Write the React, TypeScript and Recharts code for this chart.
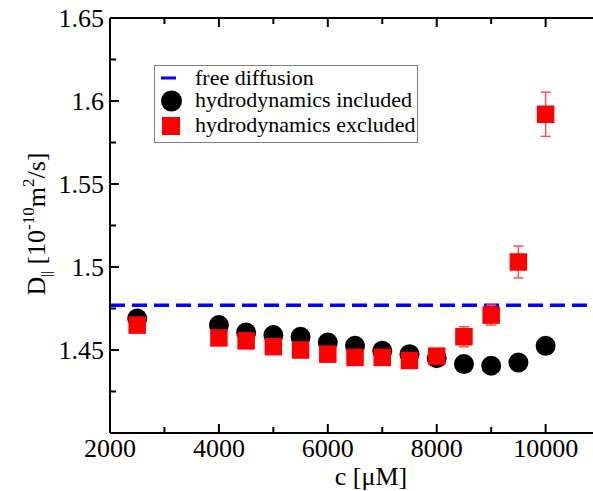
import React from "react";
import {
  ScatterChart,
  Scatter,
  XAxis,
  YAxis,
  ReferenceLine,
  ErrorBar,
  Legend,
} from "recharts";

// concentration c [µM]
const concentrations = [2500, 4000, 4500, 5000, 5500, 6000, 6500, 7000, 7500, 8000, 8500, 9000, 9500, 10000];
// D|| [1e-10 m^2/s]
const includedD = [1.469, 1.465, 1.4605, 1.459, 1.458, 1.4545, 1.4525, 1.4495, 1.4475, 1.445, 1.4415, 1.4405, 1.4425, 1.4525];
const excludedD = [1.465, 1.4573, 1.4555, 1.452, 1.45, 1.4475, 1.4455, 1.4455, 1.4437, 1.4463, 1.458, 1.471, 1.503, 1.592];
const excludedErr = [0.002, 0.002, 0.002, 0.002, 0.002, 0.002, 0.002, 0.002, 0.002, 0.002, 0.006, 0.006, 0.0096, 0.0133];
const freeDiffusion = 1.477;

const xTicks = [2000, 3000, 4000, 5000, 6000, 7000, 8000, 9000, 10000];
const xLabeled = [2000, 4000, 6000, 8000, 10000];
const yTicks = [1.4, 1.425, 1.45, 1.475, 1.5, 1.525, 1.55, 1.575, 1.6, 1.625, 1.65];
const yLabeled = [1.45, 1.5, 1.55, 1.6, 1.65];
const legendNames = ["free diffusion", "hydrodynamics included", "hydrodynamics excluded"];

const FONT = '"Liberation Serif", "DejaVu Serif", serif';

const includedData = concentrations.map((c, i) => ({ c, d: includedD[i] }));
const excludedData = concentrations.map((c, i) => ({ c, d: excludedD[i], err: excludedErr[i] }));

const BottomTick = (props: any) => {
  const { x, y, payload } = props;
  const major = xLabeled.includes(payload.value);
  return (
    <g>
      <line x1={x} x2={x} y1={y} y2={y - (major ? 9 : 6)} stroke="#000" strokeWidth={2} />
      {major && (
        <text x={x} y={y + 24} textAnchor="middle" fontSize={26} fontFamily={FONT} fill="#000">
          {payload.value}
        </text>
      )}
    </g>
  );
};

const TopTick = (props: any) => {
  const { x, y, payload } = props;
  const major = xLabeled.includes(payload.value);
  return <line x1={x} x2={x} y1={y} y2={y + (major ? 9 : 6)} stroke="#000" strokeWidth={2} />;
};

const LeftTick = (props: any) => {
  const { x, y, payload } = props;
  const major = yLabeled.includes(payload.value);
  return (
    <g>
      <line x1={x} x2={x + (major ? 9 : 6)} y1={y} y2={y} stroke="#000" strokeWidth={2} />
      {major && (
        <text x={x - 6} y={y} dy={9} textAnchor="end" fontSize={26} fontFamily={FONT} fill="#000">
          {String(payload.value)}
        </text>
      )}
    </g>
  );
};

const XLabel = (props: any) => {
  const { viewBox } = props;
  return (
    <text x={viewBox.x + 261} y={viewBox.y + 52} textAnchor="middle" fontSize={26} fontFamily={FONT} fill="#000">
      c [μM]
    </text>
  );
};

const YLabel = () => (
  <text x={45} y={224} transform="rotate(-90, 45, 224)" textAnchor="middle" fontSize={26} fontFamily={FONT} fill="#000">
    <tspan>D</tspan>
    <tspan dy={6} fontSize={14}>||</tspan>
    <tspan dy={-6}> [10</tspan>
    <tspan dy={-11} fontSize={17}>-10</tspan>
    <tspan dy={11}>m</tspan>
    <tspan dy={-11} fontSize={17}>2</tspan>
    <tspan dy={11}>/s]</tspan>
  </text>
);

const LegendBox = () => (
  <div style={{ width: 264, height: 78, border: "1px solid #808080", boxSizing: "border-box", background: "#fff" }}>
    <svg width={262} height={76} style={{ display: "block" }}>
      <line x1={6} x2={21} y1={12} y2={12} stroke="#0000ff" strokeWidth={3} />
      <circle cx={16.5} cy={35} r={10.5} fill="#000" />
      <rect x={7} y={51} width={18} height={18} fill="#ff0000" />
      {legendNames.map((name, i) => (
        <text key={name} x={40} y={[19, 41, 66][i]} fontSize={22} fontFamily={FONT} fill="#000">
          {name}
        </text>
      ))}
    </svg>
  </div>
);

export default function App() {
  return (
    <div style={{ width: 593, height: 491 }}>
      <style>{"html, body { margin: 0; padding: 0; overflow: hidden; }"}</style>
      <ScatterChart width={593} height={491} margin={{ top: 17, right: 0, bottom: 0, left: 0 }}>
        <XAxis
          xAxisId="top"
          orientation="top"
          type="number"
          dataKey="c"
          domain={[2000, 10870]}
          allowDataOverflow
          ticks={xTicks}
          interval={0}
          height={1}
          tickLine={false}
          tickSize={0}
          tickMargin={0}
          tick={TopTick}
          axisLine={{ stroke: "#000", strokeWidth: 2 }}
        />
        <XAxis
          type="number"
          dataKey="c"
          domain={[2000, 10870]}
          allowDataOverflow
          ticks={xTicks}
          interval={0}
          height={58}
          tickLine={false}
          tickSize={0}
          tickMargin={0}
          tick={BottomTick}
          axisLine={{ stroke: "#000", strokeWidth: 2 }}
          label={<XLabel />}
        />
        <YAxis
          type="number"
          dataKey="d"
          domain={[1.4, 1.65]}
          allowDataOverflow
          ticks={yTicks}
          interval={0}
          width={110}
          tickLine={false}
          tickSize={0}
          tickMargin={0}
          tick={LeftTick}
          axisLine={{ stroke: "#000", strokeWidth: 2 }}
          label={<YLabel />}
        />
        <ReferenceLine y={freeDiffusion} stroke="#0000ff" strokeWidth={3.5} strokeDasharray="15 7" />
        <Scatter
          name={legendNames[1]}
          data={includedData}
          isAnimationActive={false}
          shape={(p: any) => <circle cx={p.cx} cy={p.cy} r={10} fill="#000" />}
        />
        <Scatter
          name={legendNames[2]}
          data={excludedData}
          isAnimationActive={false}
          shape={(p: any) => <rect x={p.cx - 8.75} y={p.cy - 8.75} width={17.5} height={17.5} fill="#ff0000" />}
        >
          <ErrorBar dataKey="err" direction="y" width={5} stroke="#ff5050" strokeWidth={1.5} />
        </Scatter>
        <Legend
          layout="vertical"
          align="center"
          verticalAlign="middle"
          wrapperStyle={{ position: "absolute", left: 154, top: 65, width: 264, height: 78 }}
          content={() => <LegendBox />}
        />
      </ScatterChart>
    </div>
  );
}
